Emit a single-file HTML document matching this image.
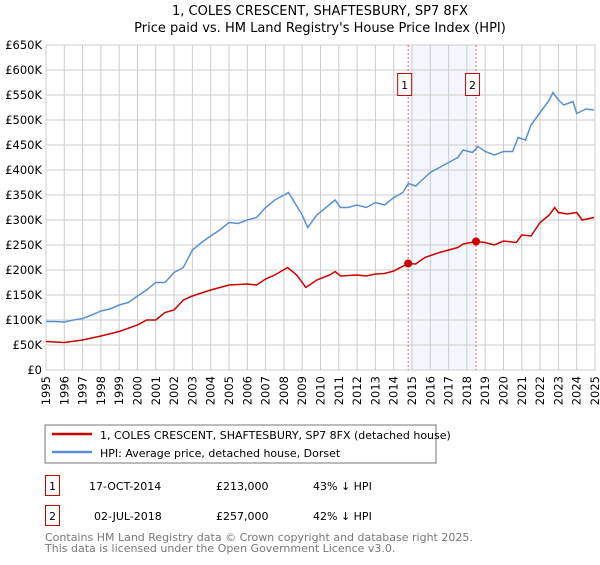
<!DOCTYPE html>
<html><head><meta charset="utf-8"><style>
body{margin:0;background:#fff;font-family:"Liberation Sans","DejaVu Sans",sans-serif;}
svg text{font-family:"DejaVu Sans","Liberation Sans",sans-serif;}
</style></head><body>
<svg id="chart" width="600" height="560" xmlns="http://www.w3.org/2000/svg">
<text x="320" y="15" text-anchor="middle" font-size="13">1, COLES CRESCENT, SHAFTESBURY, SP7 8FX</text>
<text x="320" y="32" text-anchor="middle" font-size="13">Price paid vs. HM Land Registry's House Price Index (HPI)</text>
<g id="grid"></g><g id="series"></g><g id="axes"></g>
<rect x="45" y="425" width="391" height="38" fill="#fff" stroke="#777"/>
<line x1="52" y1="434" x2="92" y2="434" stroke="#cc0000" stroke-width="2.5"/>
<text x="100" y="439" font-size="11">1, COLES CRESCENT, SHAFTESBURY, SP7 8FX (detached house)</text>
<line x1="52" y1="452" x2="92" y2="452" stroke="#5b8fd4" stroke-width="2.5"/>
<text x="100" y="457" font-size="11">HPI: Average price, detached house, Dorset</text>
<rect x="45.5" y="475.5" width="14" height="20" fill="#fff" stroke="#cc0000"/>
<text x="52.5" y="490" text-anchor="middle" font-size="11">1</text>
<text x="89" y="490" font-size="11">17-OCT-2014</text>
<text x="216" y="490" font-size="11">£213,000</text>
<text x="313" y="490" font-size="11">43% ↓ HPI</text>
<rect x="45.5" y="505.5" width="14" height="20" fill="#fff" stroke="#cc0000"/>
<text x="52.5" y="520" text-anchor="middle" font-size="11">2</text>
<text x="94" y="520" font-size="11">02-JUL-2018</text>
<text x="216" y="520" font-size="11">£257,000</text>
<text x="313" y="520" font-size="11">42% ↓ HPI</text>
<text x="45" y="541" font-size="11" fill="#777">Contains HM Land Registry data © Crown copyright and database right 2025.</text>
<text x="45" y="552" font-size="11" fill="#777">This data is licensed under the Open Government Licence v3.0.</text>
</svg>
<script>
const yTicks=[0,50,100,150,200,250,300,350,400,450,500,550,600,650];
const yLabels=["£0","£50K","£100K","£150K","£200K","£250K","£300K","£350K","£400K","£450K","£500K","£550K","£600K","£650K"];
const xYears=[1995,1996,1997,1998,1999,2000,2001,2002,2003,2004,2005,2006,2007,2008,2009,2010,2011,2012,2013,2014,2015,2016,2017,2018,2019,2020,2021,2022,2023,2024,2025];
const hpiT=[1995,1995.5,1996,1996.5,1997,1997.5,1998,1998.5,1999,1999.5,2000,2000.5,2001,2001.5,2002,2002.5,2003,2003.5,2004,2004.5,2005,2005.5,2006,2006.5,2007,2007.5,2008,2008.25,2008.5,2009,2009.3,2009.8,2010.3,2010.8,2011.1,2011.5,2012,2012.5,2013,2013.5,2014,2014.5,2014.8,2015.2,2015.7,2016,2016.5,2017,2017.5,2017.8,2018.3,2018.6,2019,2019.5,2020,2020.5,2020.8,2021.2,2021.5,2022,2022.5,2022.7,2023,2023.3,2023.8,2024,2024.5,2024.95];
const hpiV=[97,97,96,100,103,110,118,122,130,135,148,160,175,175,195,205,240,255,268,280,295,293,300,305,325,340,350,355,340,310,285,310,325,340,325,325,330,325,335,330,345,355,373,368,385,395,405,415,425,440,435,447,437,430,437,437,465,460,490,515,540,555,540,530,537,513,522,520];
const ppT=[1995,1996,1997,1998,1999,2000,2000.5,2001,2001.5,2002,2002.5,2003,2004,2005,2006,2006.5,2007,2007.5,2008.2,2008.7,2009.2,2009.8,2010.5,2010.8,2011.1,2012,2012.5,2013,2013.5,2014,2014.79,2015.2,2015.7,2016.5,2017.5,2017.8,2018.5,2019,2019.5,2020,2020.7,2021,2021.5,2022,2022.5,2022.8,2023,2023.5,2024,2024.3,2024.95];
const ppV=[57,55,60,68,77,90,100,100,115,120,140,148,160,170,172,170,182,190,205,190,165,180,190,197,188,190,188,192,193,198,213,212,225,235,245,252,257,255,250,258,255,270,268,295,310,325,315,312,315,300,305];
const saleT=[2014.79,2018.5];
const saleV=[213,257];
const saleLabels=["1","2"];
const X0=46,X1=595,Y0=370,Y1=45;
const xs=t=>X0+(t-1995)/(2025-1995)*(X1-X0);
const ys=v=>Y0-v/650*(Y0-Y1);
const NS="http://www.w3.org/2000/svg";
function mk(parent,tag,attrs){const e=document.createElementNS(NS,tag);for(const k in attrs)e.setAttribute(k,attrs[k]);document.getElementById(parent).appendChild(e);return e;}
const band=mk('grid','rect',{x:xs(saleT[0]),y:Y1,width:xs(saleT[1])-xs(saleT[0]),height:Y0-Y1,fill:'#eef3fc',opacity:0.7});


yTicks.forEach((v,i)=>{
 const l=mk('grid','line',{x1:X0,x2:X1,y1:ys(v),y2:ys(v),stroke:'#ccc'});
 
 
 const t=mk('axes','text',{x:X0-4,y:ys(v)+4,'text-anchor':'end','font-size':'11.5'});
 t.textContent=yLabels[i];
 
 
});
xYears.forEach(yr=>{
 const l=mk('grid','line',{x1:xs(yr),x2:xs(yr),y1:Y1,y2:Y0,stroke:'#ccc'});
 
 
 const t=mk('axes','text',{x:0,y:0,'text-anchor':'end','font-size':'11.5',transform:`translate(${xs(yr)+4},${Y0+6}) rotate(-90)`});
 t.textContent=String(yr);
 
 
});
const frame=mk('grid','rect',{x:X0,y:Y1,width:X1-X0,height:Y0-Y1,fill:'none',stroke:'#ccc'});


saleT.forEach((t,i)=>{
 const l=mk('series','line',{x1:xs(t),x2:xs(t),y1:Y1,y2:Y0,stroke:'#e06666','stroke-dasharray':'2,2'});
 
 
 const r=mk('series','rect',{x:xs(t)-10.5,y:73.5,width:14,height:22,fill:'#fff',stroke:'#cc0000'});
 
 
 const tx=mk('series','text',{x:xs(t)-3.5,y:89,'text-anchor':'middle','font-size':'11'});
 tx.textContent=saleLabels[i];
 
 
});
function line(T,V,color,name){
 const d=T.map((t,i)=>(i?'L':'M')+xs(t).toFixed(1)+','+ys(V[i]).toFixed(1)).join('');
 const p=mk('series','path',{d:d,fill:'none',stroke:color,'stroke-width':1.5});
 
 
}
line(hpiT,hpiV,'#5b8fd4','hpi-line');
line(ppT,ppV,'#cc0000','property-price-line');
saleT.forEach((t,i)=>{
 const c=mk('series','circle',{cx:xs(t),cy:ys(saleV[i]),r:4,fill:'#cc0000'});
 
 
});
</script>
</body></html>
